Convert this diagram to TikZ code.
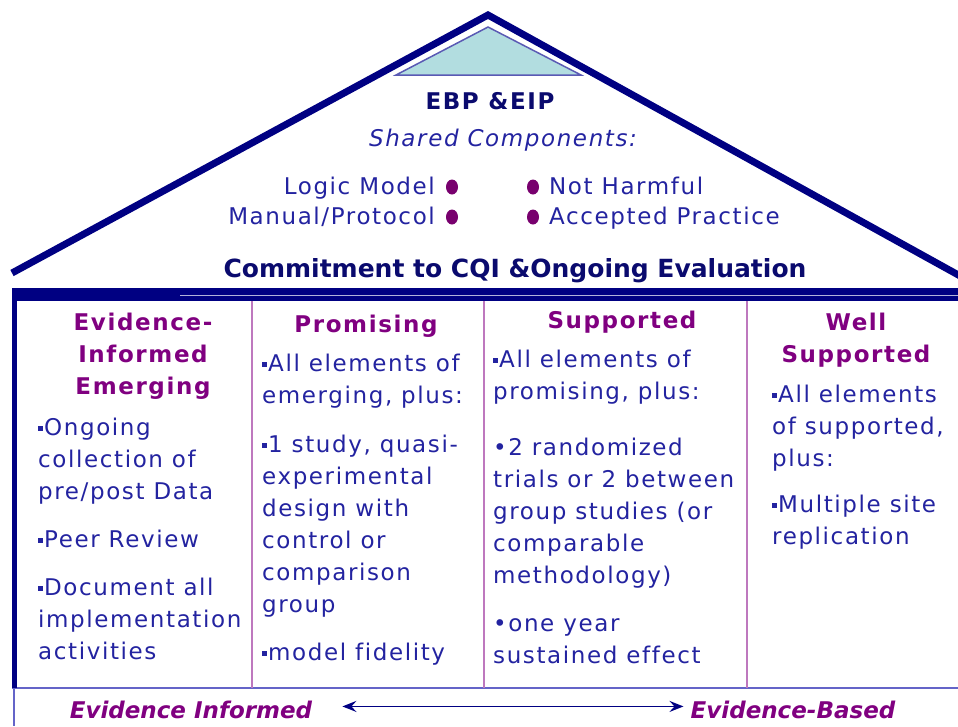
\documentclass[tikz,border=0pt]{standalone}
\usepackage{fontspec}
\setmainfont{DejaVu Sans}[LetterSpace=7, Ligatures=NoCommon]
\newfontfamily\plainfont{DejaVu Sans}
\usepackage{tikz}
\usetikzlibrary{shapes.geometric, arrows, arrows.meta}
\newcommand{\bodySize}{\fontsize{23}{32}\selectfont}
\newcommand{\parGap}{16pt}
\newcommand{\sq}{\rule[5pt]{4.5pt}{4.5pt}\hspace{1.5pt}}

\definecolor{roofNavy}{RGB}{0,0,130}
\definecolor{inkNavy}{RGB}{10,10,110}
\definecolor{inkBlue}{RGB}{35,35,160}
\definecolor{headPurple}{RGB}{128,0,128}
\definecolor{dotPurple}{RGB}{120,0,110}
\definecolor{ruleLilac}{RGB}{190,120,190}
\definecolor{ruleBlue}{RGB}{100,100,200}
\definecolor{gableFill}{RGB}{178,221,224}
\definecolor{gableLine}{RGB}{90,90,180}

\tikzset{
  roof/.style={draw=roofNavy, line width=7pt, line join=miter},
  divider/.style={draw=ruleLilac, line width=2pt},
  body/.style={anchor=north west, inner sep=0pt, align=left, text=inkBlue, font=\bodySize},
  head/.style={anchor=north, inner sep=0pt, align=center, text=headPurple, font=\bodySize\bfseries},
  share/.style={inner sep=0pt, text=inkBlue, font=\bodySize},
  dot/.style={ellipse, fill=dotPurple, minimum width=12pt, minimum height=15pt, inner sep=0pt},
  endLabel/.style={inner sep=0pt, anchor=base, text=headPurple, font=\fontsize{23}{28}\selectfont\plainfont\bfseries\itshape},
  spanTip/.tip={Stealth[length=14pt,width=11pt,inset=5pt]}
}

\begin{document}
\begin{tikzpicture}[x=1pt,y=-1pt]
\useasboundingbox (0,0) rectangle (958,726);
\draw[roof] (12,273) -- (488,15) -- (1000,298);
\draw[draw=gableLine, fill=gableFill, line width=1.5pt] (396,75) -- (488,27) -- (581,75) -- cycle;
\node[share, anchor=base, text=inkNavy, font=\bodySize\bfseries] (ebp) at (490,109) {EBP \&EIP};
\node[share, anchor=base, font=\bodySize\itshape] (shared) at (503,146) {Shared Components:};
\node[share, anchor=base east] (logic) at (435,194) {Logic Model};
\node[share, anchor=base east] (manual) at (435,224) {Manual/Protocol};
\node[share, anchor=base west] (harmful) at (549,194) {Not Harmful};
\node[share, anchor=base west] (accepted) at (549,224) {Accepted Practice};
\node[dot] (dotLogic) at (452,187) {};
\node[dot] (dotManual) at (452,217) {};
\node[dot] (dotHarmful) at (533,187) {};
\node[dot] (dotAccepted) at (533,217) {};
\node[share, anchor=base, text=inkNavy, font=\fontsize{25}{30}\selectfont\plainfont\bfseries] (cqi) at (515,277) {Commitment to CQI \&Ongoing Evaluation};
\fill[roofNavy] (12,288) rectangle (958,301);
\draw[white!70!roofNavy, line width=0.8pt] (180,295) -- (958,295);
\draw[ruleBlue, line width=2pt] (12,688) -- (958,688);
\draw[roofNavy, line width=4.5pt] (14.5,301) -- (14.5,688);
\draw[ruleBlue, line width=2pt] (14,688) -- (14,726);
\foreach \x in {252,484,747}
  \draw[divider] (\x,301) -- (\x,688);
\node[head] (emerging) at (143,313) {Evidence-\\Informed\\Emerging};
\node[head] (promising) at (366,315) {Promising};
\node[head] (supported) at (622,311) {Supported};
\node[head] (wellSupported) at (856,313) {Well\\Supported};
\node[body] (emergingText) at (38,418) {\sq Ongoing\\collection of\\pre/post Data\\[\parGap]\sq Peer Review\\[\parGap]\sq Document all\\implementation\\activities};
\node[body] (promisingText) at (262,354) {\sq All elements of\\emerging, plus:\\[17pt]\sq 1 study, quasi-\\experimental\\design with\\control or\\comparison\\group\\[\parGap]\sq model fidelity};
\node[body] (supportedText) at (493,350) {\sq All elements of\\promising, plus:\\[24pt]•2 randomized\\trials or 2 between\\group studies (or\\comparable\\methodology)\\[\parGap]•one year\\sustained effect};
\node[body] (wellText) at (772,385) {\sq All elements\\of supported,\\plus:\\[14pt]\sq Multiple site\\replication};
\node[endLabel] (informed) at (191,718) {Evidence Informed};
\node[endLabel] (based) at (793,718) {Evidence-Based};
\draw[spanTip-spanTip, roofNavy, line width=1.8pt] ([xshift=30pt,yshift=3pt]informed.east) -- ([xshift=-7pt,yshift=3pt]based.west);
\end{tikzpicture}
\end{document}
